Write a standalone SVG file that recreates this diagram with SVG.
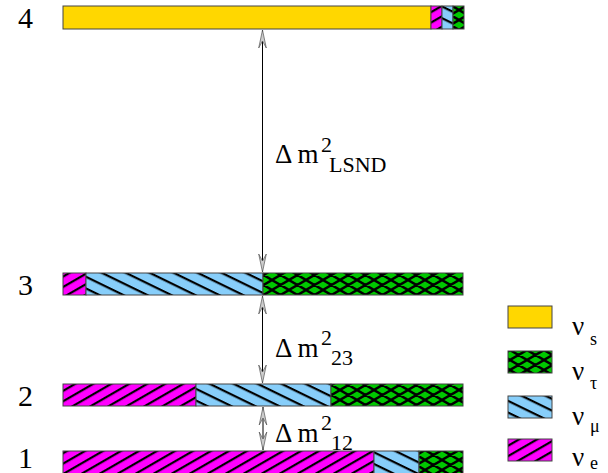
<svg xmlns="http://www.w3.org/2000/svg" width="608" height="473" viewBox="0 0 608 473">
<style>
.bar{stroke:#444;stroke-width:1}
text{font-family:'Liberation Serif','DejaVu Serif','Times New Roman',serif;fill:#000}
.lvl{font-size:30px}
.big{font-size:27px}
.sm{font-size:22px}
.nu{font-size:27px}
.nus{font-size:18px}
.conn{stroke:#000;stroke-width:1;fill:none}
</style>
<defs>
<pattern id="pe" patternUnits="userSpaceOnUse" width="10" height="9" patternTransform="rotate(-30)">
<rect width="10" height="9" fill="#ff00ff"/>
<rect width="10" height="2.2" fill="#000"/>
</pattern>
<pattern id="pm" patternUnits="userSpaceOnUse" width="10" height="10.5" patternTransform="rotate(26)">
<rect width="10" height="10.5" fill="#87cefa"/>
<rect width="10" height="2.2" fill="#000"/>
</pattern>
<pattern id="pt" patternUnits="userSpaceOnUse" width="17" height="10">
<rect width="17" height="10" fill="#00c800"/>
<path d="M-17,-10 L34,20 M0,-10 L51,20 M-34,-10 L17,20 M-17,20 L34,-10 M-34,20 L17,-10 M0,20 L51,-10" stroke="#000" stroke-width="2.4" fill="none"/>
</pattern>
<marker id="ah" viewBox="0 0 18 10" refX="18" refY="5" markerWidth="18" markerHeight="10" markerUnits="userSpaceOnUse" orient="auto-start-reverse">
<path d="M0,1.2 L18,5 L0,8.8 L7,5 Z" fill="#ccc" stroke="#555" stroke-width="0.7"/>
</marker>
</defs>

<g id="connectors">
<line class="conn" x1="262.5" y1="30" x2="262.5" y2="272" marker-start="url(#ah)" marker-end="url(#ah)"/>
<line class="conn" x1="262.5" y1="296" x2="262.5" y2="383" marker-start="url(#ah)" marker-end="url(#ah)"/>
<line class="conn" x1="263" y1="407" x2="263" y2="450" marker-start="url(#ah)" marker-end="url(#ah)"/>
</g>

<g id="level4">
<text class="lvl" x="18" y="28">4</text>
<rect class="bar" x="63" y="6" width="368" height="23" fill="#ffd700"/>
<rect class="bar" x="431" y="6" width="11" height="23" fill="url(#pe)"/>
<rect class="bar" x="442" y="6" width="11" height="23" fill="url(#pm)"/>
<rect class="bar" x="453" y="6" width="11" height="23" fill="url(#pt)"/>
</g>

<g id="level3">
<text class="lvl" x="18" y="295">3</text>
<rect class="bar" x="63" y="273" width="23" height="22" fill="url(#pe)"/>
<rect class="bar" x="86" y="273" width="177" height="22" fill="url(#pm)"/>
<rect class="bar" x="263" y="273" width="200" height="22" fill="url(#pt)"/>
</g>

<g id="level2">
<text class="lvl" x="18" y="406">2</text>
<rect class="bar" x="63" y="384" width="133" height="22" fill="url(#pe)"/>
<rect class="bar" x="196" y="384" width="135" height="22" fill="url(#pm)"/>
<rect class="bar" x="331" y="384" width="132" height="22" fill="url(#pt)"/>
</g>

<g id="level1">
<text class="lvl" x="18" y="468">1</text>
<rect class="bar" x="63" y="451" width="311" height="30" fill="url(#pe)"/>
<rect class="bar" x="374" y="451" width="45" height="30" fill="url(#pm)"/>
<rect class="bar" x="419" y="451" width="44" height="30" fill="url(#pt)"/>
</g>

<g id="label-lsnd">
<text class="big" x="275" y="163">Δ m</text>
<text class="sm" x="321" y="152">2</text>
<text class="sm" x="329" y="172">LSND</text>
</g>
<g id="label-23">
<text class="big" x="275" y="357">Δ m</text>
<text class="sm" x="321" y="345">2</text>
<text class="sm" x="331" y="365">23</text>
</g>
<g id="label-12">
<text class="big" x="275" y="442">Δ m</text>
<text class="sm" x="321" y="430">2</text>
<text class="sm" x="331" y="450">12</text>
</g>

<g id="legend-s">
<rect class="bar" x="508" y="306" width="44" height="22" fill="#ffd700"/>
<text class="nu" x="572" y="335">ν</text>
<text class="nus" x="590" y="345">s</text>
</g>
<g id="legend-tau">
<rect class="bar" x="508" y="351" width="44" height="22" fill="url(#pt)"/>
<text class="nu" x="572" y="380">ν</text>
<text class="nus" x="590" y="389">τ</text>
</g>
<g id="legend-mu">
<rect class="bar" x="508" y="396" width="44" height="22" fill="url(#pm)"/>
<text class="nu" x="572" y="425">ν</text>
<text class="nus" x="590" y="432">μ</text>
</g>
<g id="legend-e">
<rect class="bar" x="508" y="439" width="44" height="22" fill="url(#pe)"/>
<text class="nu" x="572" y="466">ν</text>
<text class="nus" x="590" y="469">e</text>
</g>
</svg>
